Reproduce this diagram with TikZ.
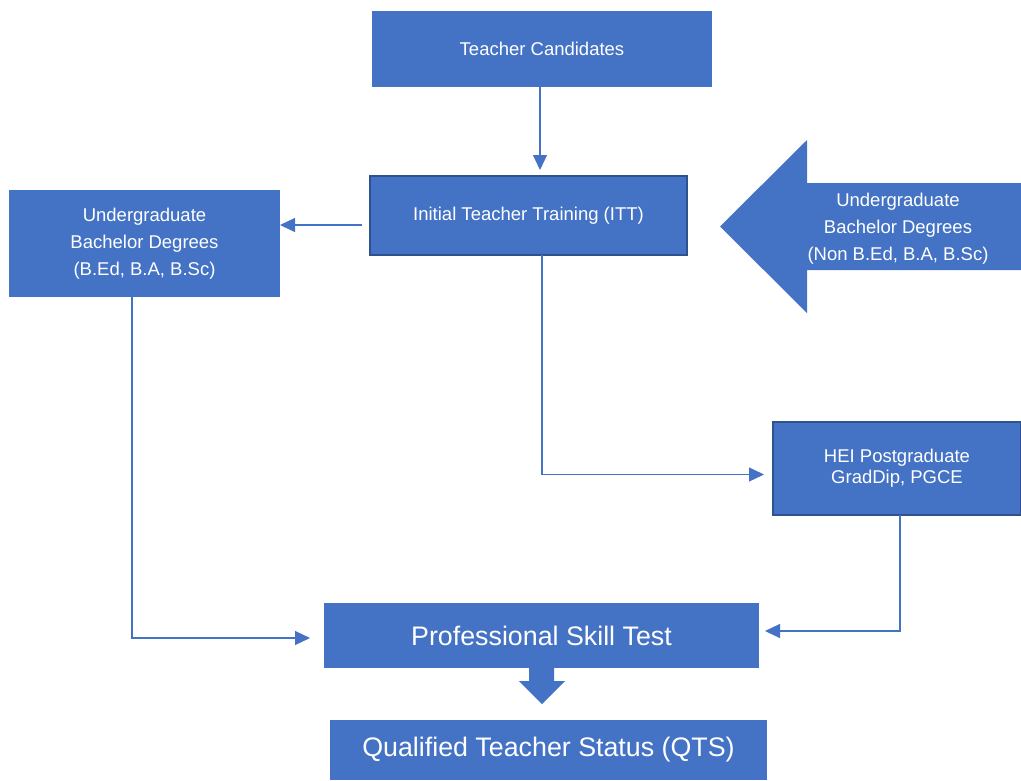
\documentclass[tikz,border=0pt]{standalone}
\usepackage{fontspec}
\setmainfont{Liberation Sans}
\usetikzlibrary{arrows.meta}
\definecolor{boxblue}{HTML}{4472C4}
\definecolor{boxedge}{HTML}{2F528F}
\begin{document}
\begin{tikzpicture}[x=1pt,y=-1pt,
  box/.style={rectangle,fill=boxblue,inner sep=0pt,outer sep=0pt,text=white,align=center},
  small/.style={font=\fontsize{18.5}{27}\selectfont},
  big/.style={font=\fontsize{26.8}{32}\selectfont},
  edged/.style={draw=boxedge,line width=2.5pt},
  conn/.style={draw=boxblue,line width=1.2pt,-{Triangle[length=15pt,width=14pt]}}]
\useasboundingbox (0,0) rectangle (1021,780);
\node[box,small,minimum width=340,minimum height=76] (tc) at (542,49) {Teacher Candidates};
\node[box,small,edged,minimum width=317,minimum height=79] (itt) at (528.5,215.5) {Initial Teacher Training (ITT)};
\node[box,small,minimum width=271,minimum height=107] (lb) at (144.5,243.5) {Undergraduate\\Bachelor Degrees\\(B.Ed, B.A, B.Sc)};
\node[box,font=\fontsize{18.5}{21}\selectfont,edged,minimum width=248,minimum height=93] (hei) at (897,468.5) {HEI Postgraduate\\GradDip, PGCE};
\node[box,big,minimum width=435,minimum height=65] (pst) at (541.5,635.5) {Professional Skill Test};
\node[box,big,minimum width=437,minimum height=60] (qts) at (548.5,750) {Qualified Teacher Status (QTS)};
% big left block arrow
\fill[boxblue] (720,226.5) -- (807,140) -- (807,183) -- (1021,183) -- (1021,270) -- (807,270) -- (807,313) -- cycle;
\node[small,text=white,align=center] (nb) at (898,229) {Undergraduate\\Bachelor Degrees\\(Non B.Ed, B.A, B.Sc)};
% down block arrow
\fill[boxblue] (529,667) -- (554,667) -- (554,681) -- (565,681) -- (542,704) -- (519,681) -- (529,681) -- cycle;
% connectors
\draw[conn,shorten >=6pt] ([xshift=-2]tc.south) -- ([xshift=11.5]itt.north);
\draw[conn,shorten <=8pt] ([yshift=-9.5]itt.west) -- ([yshift=18.5]lb.east);
\draw[conn,shorten >=9pt] ([xshift=13.5]itt.south) |- ([yshift=-6]hei.west);
\draw[conn,shorten >=14pt] ([xshift=-12.5]lb.south) |- ([yshift=-2.5]pst.west);
\draw[conn,shorten >=6pt] ([xshift=3]hei.south) |- ([yshift=4.5]pst.east);
\end{tikzpicture}
\end{document}
